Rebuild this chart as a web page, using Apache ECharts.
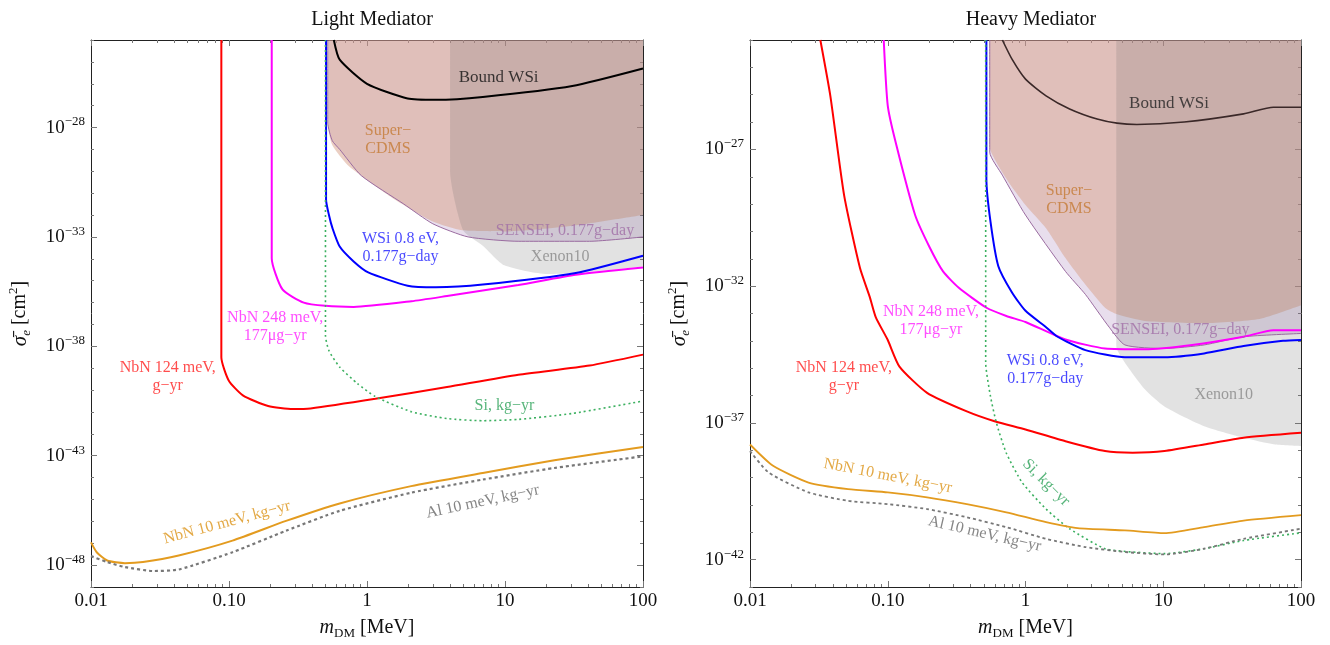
<!DOCTYPE html>
<html>
<head>
<meta charset="utf-8">
<script src="https://cdn.jsdelivr.net/npm/echarts@6/dist/echarts.min.js"></script>
<style>
html, body { margin: 0; padding: 0; background: #fff; }
#chart { width: 1330px; height: 645px; }
</style>
</head>
<body>
<div id="chart"></div>
<script>
// x: dark matter mass in MeV, y: log10 of sigma_e in cm^2
const massTicks = [0.01, 0.1, 1, 10, 100];
const massTickLabels = ['0.01', '0.10', '1', '10', '100'];
const lightSigmaTicks = [-48, -43, -38, -33, -28];
const heavySigmaTicks = [-42, -37, -32, -27];

// ---- light mediator ----
const lightNbN124 = [[0.088,-24],[0.088,-38.5],[0.0995,-39.56],[0.126,-40.24],[0.192,-40.73],[0.29,-40.87],[0.39,-40.84],[1.15,-40.4],[3.8,-39.86],[12.5,-39.3],[41,-38.88],[100,-38.38]];
const lightNbN248 = [[0.204,-24],[0.204,-33.97],[0.244,-35.4],[0.348,-36.0],[0.5,-36.15],[0.8,-36.2],[2.1,-35.94],[3.8,-35.7],[12.5,-35.2],[32.6,-34.73],[100,-34.4]];
const lightWSi = [[0.505,-24],[0.505,-31.3],[0.53,-32.0],[0.562,-32.6],[0.634,-33.44],[0.8,-34.12],[1.02,-34.62],[1.97,-35.23],[3.16,-35.3],[6.9,-35.18],[32.6,-34.65],[100,-33.86]];
const lightSi = [[0.5,-24],[0.5,-37.5],[0.53,-38.2],[0.634,-38.95],[0.853,-39.7],[1.15,-40.3],[2.1,-40.99],[3.8,-41.3],[6.9,-41.4],[12.5,-41.34],[30.7,-41.07],[100,-40.5]];
const lightNbN10 = [[0.01,-46.96],[0.011,-47.41],[0.0131,-47.79],[0.0176,-47.91],[0.0238,-47.86],[0.0432,-47.56],[0.106,-46.88],[0.259,-45.98],[0.634,-45.18],[2.09,-44.39],[6.9,-43.79],[22.8,-43.21],[100,-42.6]];
const lightAl = [[0.01,-47.59],[0.0131,-47.86],[0.0176,-48.09],[0.0284,-48.27],[0.0432,-48.2],[0.106,-47.41],[0.259,-46.43],[0.634,-45.52],[2.09,-44.69],[6.9,-44.09],[22.8,-43.56],[100,-43.03]];
const lightBound = [[0.575,-24],[0.634,-24.9],[1.0,-26.0],[1.97,-26.67],[3.16,-26.73],[6.9,-26.6],[30.7,-26.1],[100,-25.3]];
const lightCDMS = [[0.525,-24],[0.525,-28.0],[0.56,-28.8],[0.72,-29.7],[1.0,-30.4],[1.6,-31.3],[3.0,-32.3],[4.9,-32.7],[10,-32.75],[30,-32.5],[100,-32.0]];
const lightSENSEI = [[0.52,-24],[0.52,-27.8],[0.56,-28.6],[0.634,-29.0],[0.91,-30.2],[1.85,-31.5],[3.0,-32.4],[5.4,-33.0],[12.6,-33.2],[41,-33.2],[100,-33.0]];
const lightXenon = [[4.0,-24],[4.0,-30.0],[4.97,-32.7],[6.9,-33.4],[9.9,-34.3],[20.2,-34.7],[32.6,-34.65],[100,-34.35]];

// ---- heavy mediator ----
const heavyNbN124 = [[0.0324,-23],[0.0383,-25.04],[0.0482,-28.67],[0.0628,-31.33],[0.0741,-32.4],[0.0818,-33.13],[0.1,-33.97],[0.1216,-34.94],[0.193,-35.9],[0.375,-36.58],[0.596,-36.94],[1.0,-37.24],[1.95,-37.67],[3.78,-38.03],[6.0,-38.09],[10.2,-38.03],[19.8,-37.79],[38.3,-37.54],[100,-37.36]];
const heavyNbN248 = [[0.0935,-23],[0.1,-25.4],[0.114,-26.73],[0.158,-29.4],[0.2,-30.55],[0.252,-31.46],[0.328,-32.06],[0.521,-32.79],[0.726,-33.09],[1.0,-33.31],[1.95,-33.95],[3.78,-34.28],[7.35,-34.31],[16.2,-34.15],[38.3,-33.85],[63,-33.61],[100,-33.61]];
const heavyWSi = [[0.52,-23],[0.52,-28.07],[0.557,-29.64],[0.635,-31.27],[0.8,-32.24],[1.0,-32.9],[1.41,-33.5],[1.71,-33.85],[2.72,-34.34],[5.27,-34.6],[10.2,-34.6],[19.8,-34.46],[38.3,-34.19],[74,-34.0],[100,-33.97]];
const heavySi = [[0.514,-23],[0.514,-34.8],[0.557,-36.03],[0.615,-37.0],[0.724,-38.09],[0.946,-39.18],[1.41,-40.15],[2.09,-40.87],[3.78,-41.6],[6.0,-41.72],[10.2,-41.78],[19.8,-41.6],[38.3,-41.3],[100,-41.02]];
const heavyNbN10 = [[0.01,-37.79],[0.0147,-38.57],[0.0266,-39.18],[0.0515,-39.42],[0.1,-39.54],[0.193,-39.72],[0.375,-39.97],[0.726,-40.27],[1.41,-40.63],[2.39,-40.85],[5.27,-40.93],[10.2,-41.03],[19.8,-40.81],[38.3,-40.57],[100,-40.37]];
const heavyAl = [[0.01,-38.03],[0.0137,-38.82],[0.0266,-39.54],[0.0515,-39.85],[0.1,-39.97],[0.193,-40.15],[0.375,-40.45],[0.726,-40.81],[1.41,-41.24],[2.72,-41.54],[5.27,-41.72],[10.2,-41.81],[19.8,-41.6],[38.3,-41.24],[100,-40.87]];
const heavyBound = [[0.679,-23],[0.8,-23.71],[1.0,-24.43],[1.41,-25.04],[2.09,-25.52],[3.31,-25.89],[4.62,-26.04],[6.43,-26.09],[14.2,-26.0],[38.3,-25.7],[63,-25.46],[100,-25.46]];
const heavyCDMS = [[0.546,-23],[0.546,-26.85],[0.726,-28.07],[1.0,-29.03],[1.41,-29.88],[1.95,-30.97],[2.72,-31.94],[3.78,-32.79],[4.62,-33.03],[7.35,-33.27],[19.8,-33.35],[50,-33.2],[100,-32.7]];
const heavySENSEI = [[0.55,-23],[0.55,-27.1],[0.679,-27.94],[1.0,-29.4],[1.95,-31.46],[2.72,-32.3],[4.05,-33.5],[5.27,-34.15],[10.2,-34.28],[19.8,-34.15],[38.3,-33.85],[100,-33.73]];
const heavyXenon = [[4.56,-23],[4.56,-34.2],[5.27,-34.8],[7.35,-35.77],[10.2,-36.4],[19.8,-37.12],[38.3,-37.54],[65,-37.79],[100,-37.85]];

const FONT = '"Liberation Serif", "Times New Roman", serif';

// where the in-plot labels sit (mass, log sigma)
const lightNotes = [
  {t: 'Bound WSi', m: 9.0, y: -25.7, c: '#111', s: 17},
  {t: 'Super−\nCDMS', m: 1.42, y: -28.55, c: '#c47a35'},
  {t: 'WSi 0.8 eV,\n0.177g−day', m: 1.75, y: -33.5, c: '#1a1aff'},
  {t: 'SENSEI, 0.177g−day', m: 27.2, y: -32.7, c: '#a06ea6'},
  {t: 'Xenon10', m: 25.1, y: -33.9, c: '#888'},
  {t: 'NbN 248 meV,\n177μg−yr', m: 0.216, y: -37.1, c: '#ff22ff'},
  {t: 'NbN 124 meV,\ng−yr', m: 0.036, y: -39.4, c: '#ff2020'},
  {t: 'Si, kg−yr', m: 9.9, y: -40.7, c: '#2ea35a'},
  {t: 'NbN 10 meV, kg−yr', m: 0.0966, y: -46.05, c: '#dc9418', r: 15},
  {t: 'Al 10 meV, kg−yr', m: 6.9, y: -45.1, c: '#666', r: 12}
];
const heavyNotes = [
  {t: 'Bound WSi', m: 11, y: -25.34, c: '#222', s: 17},
  {t: 'Super−\nCDMS', m: 2.07, y: -28.85, c: '#c47a35'},
  {t: 'NbN 248 meV,\n177μg−yr', m: 0.206, y: -33.25, c: '#ff22ff'},
  {t: 'NbN 124 meV,\ng−yr', m: 0.048, y: -35.3, c: '#ff2020'},
  {t: 'WSi 0.8 eV,\n0.177g−day', m: 1.39, y: -35.07, c: '#1a1aff'},
  {t: 'SENSEI, 0.177g−day', m: 13.3, y: -33.61, c: '#a06ea6'},
  {t: 'Xenon10', m: 27.5, y: -35.97, c: '#888'},
  {t: 'NbN 10 meV, kg−yr', m: 0.1, y: -38.94, c: '#dc9418', r: -11},
  {t: 'Al 10 meV, kg−yr', m: 0.505, y: -41.06, c: '#666', r: -13},
  {t: 'Si, kg−yr', m: 1.41, y: -39.18, c: '#2ea35a', r: -45}
];

const logMass = massTicks.map(Math.log10);
const minorMass = [];
for (let d = -2; d < 2; d++) for (let k = 2; k <= 9; k++) minorMass.push(d + Math.log10(k));

const lineCol = '#222';
const tickCol = '#777';

function xAxes(g) {
  const base = {type: 'value', gridIndex: g, min: -2, max: 2, splitLine: {show: false}};
  return [
    Object.assign({}, base, {
      position: 'bottom', interval: 1,
      axisLine: {onZero: false, lineStyle: {color: lineCol}},
      axisTick: {inside: true, length: 6, customValues: logMass, lineStyle: {color: tickCol}},
      axisLabel: {margin: 5, fontFamily: FONT, fontSize: 19, color: '#111', customValues: logMass,
        formatter: v => massTickLabels[Math.round(v) + 2]},
      name: '{i|m}{sub|DM}{n| [MeV]}', nameLocation: 'middle', nameGap: 29,
      nameTextStyle: {rich: {
        i: {fontFamily: FONT, fontSize: 20, fontStyle: 'italic', color: '#111', lineHeight: 24, verticalAlign: 'middle'},
        sub: {fontFamily: FONT, fontSize: 13, color: '#111', lineHeight: 10, verticalAlign: 'bottom'},
        n: {fontFamily: FONT, fontSize: 20, color: '#111', lineHeight: 24, verticalAlign: 'middle'}
      }}
    }),
    Object.assign({}, base, {position: 'bottom', axisLine: {show: false, onZero: false}, axisLabel: {show: false},
      axisTick: {inside: true, length: 3, customValues: minorMass, lineStyle: {color: tickCol}}}),
    Object.assign({}, base, {position: 'top', axisLine: {onZero: false, lineStyle: {color: lineCol}}, axisLabel: {show: false},
      axisTick: {inside: true, length: 6, customValues: logMass, lineStyle: {color: tickCol}}}),
    Object.assign({}, base, {position: 'top', axisLine: {show: false, onZero: false}, axisLabel: {show: false},
      axisTick: {inside: true, length: 3, customValues: minorMass, lineStyle: {color: tickCol}}})
  ];
}

function yAxes(g, lo, hi, majors) {
  const minors = [];
  for (let e = lo; e <= hi; e++) minors.push(e);
  const base = {type: 'value', gridIndex: g, min: lo, max: hi, splitLine: {show: false}};
  return [
    Object.assign({}, base, {
      position: 'left',
      axisLine: {onZero: false, lineStyle: {color: lineCol}},
      axisTick: {inside: true, length: 6, customValues: majors, lineStyle: {color: tickCol}},
      axisLabel: {margin: 6, customValues: majors, formatter: v => '{b|10}{s|' + String(v).replace('-', '−') + '}',
        rich: {
          b: {fontFamily: FONT, fontSize: 19, color: '#111', lineHeight: 24, verticalAlign: 'middle'},
          s: {fontFamily: FONT, fontSize: 13, color: '#111', lineHeight: 10, verticalAlign: 'top'}
        }},
      name: '{g|σ̄}{sub|e}{n| [cm}{sup|2}{n|]}', nameLocation: 'middle', nameGap: 58, nameRotate: 90,
      nameTextStyle: {rich: {
        g: {fontFamily: FONT, fontSize: 21, fontStyle: 'italic', color: '#111', lineHeight: 26, verticalAlign: 'middle'},
        sub: {fontFamily: FONT, fontSize: 13, fontStyle: 'italic', color: '#111', lineHeight: 10, verticalAlign: 'bottom'},
        n: {fontFamily: FONT, fontSize: 20, color: '#111', lineHeight: 26, verticalAlign: 'middle'},
        sup: {fontFamily: FONT, fontSize: 13, color: '#111', lineHeight: 14, verticalAlign: 'top'}
      }}
    }),
    Object.assign({}, base, {position: 'left', axisLine: {show: false, onZero: false}, axisLabel: {show: false},
      axisTick: {inside: true, length: 3, customValues: minors, lineStyle: {color: tickCol}}}),
    Object.assign({}, base, {position: 'right', axisLine: {onZero: false, lineStyle: {color: lineCol}}, axisLabel: {show: false},
      axisTick: {inside: true, length: 6, customValues: majors, lineStyle: {color: tickCol}}}),
    Object.assign({}, base, {position: 'right', axisLine: {show: false, onZero: false}, axisLabel: {show: false},
      axisTick: {inside: true, length: 3, customValues: minors, lineStyle: {color: tickCol}}})
  ];
}

const toXY = pts => pts.map(p => [Math.log10(p[0]), p[1]]);

function curve(data, g, color, width, type) {
  return {type: 'line', xAxisIndex: g * 4, yAxisIndex: g * 4, data: toXY(data),
    symbol: 'none', smooth: 0.2, silent: true, z: 3,
    lineStyle: {color: color, width: width, type: type || 'solid'}};
}

function region(data, g, fill, edge) {
  return {type: 'line', xAxisIndex: g * 4, yAxisIndex: g * 4, data: toXY(data),
    symbol: 'none', smooth: 0.2, silent: true, z: 1,
    areaStyle: {origin: 'end', color: fill, opacity: 1},
    lineStyle: edge ? {color: edge, width: 1} : {width: 0}};
}

function notes(list, g) {
  return {type: 'scatter', xAxisIndex: g * 4, yAxisIndex: g * 4, symbolSize: 1, silent: true, z: 6,
    itemStyle: {color: 'rgba(0,0,0,0)'},
    data: list.map(n => ({
      value: [Math.log10(n.m), n.y],
      label: {show: true, position: 'inside', formatter: n.t, color: n.c, rotate: n.r || 0,
        fontFamily: FONT, fontSize: n.s || 16, lineHeight: 18, align: 'center'}
    }))};
}

const fillSENSEI = 'rgba(150,105,175,0.22)';
const fillCDMS = 'rgba(215,160,135,0.5)';
const fillXenon = 'rgba(110,110,110,0.2)';

const chart = echarts.init(document.getElementById('chart'));
chart.setOption({
  animation: false,
  backgroundColor: '#fff',
  title: [
    {text: 'Light Mediator', left: 367, top: 5, textAlign: 'center',
      textStyle: {fontFamily: FONT, fontSize: 20, fontWeight: 'normal', color: '#111'}},
    {text: 'Heavy Mediator', left: 1026, top: 5, textAlign: 'center',
      textStyle: {fontFamily: FONT, fontSize: 20, fontWeight: 'normal', color: '#111'}}
  ],
  grid: [
    {left: 91, top: 40, width: 552, height: 551},
    {left: 750, top: 40, width: 551, height: 552}
  ],
  xAxis: xAxes(0).concat(xAxes(1)),
  yAxis: yAxes(0, -49, -24, lightSigmaTicks).concat(yAxes(1, -43, -23, heavySigmaTicks)),
  series: [
    region(lightSENSEI, 0, fillSENSEI, '#9a6ca0'),
    region(lightCDMS, 0, fillCDMS),
    region(lightXenon, 0, fillXenon),
    curve(lightBound, 0, '#000', 2),
    curve(lightNbN124, 0, '#ff0000', 2),
    curve(lightNbN248, 0, '#ff00ff', 2),
    curve(lightWSi, 0, '#0000ff', 2),
    curve(lightSi, 0, '#3cb060', 1.6, [2, 3]),
    curve(lightNbN10, 0, '#e39b1f', 2),
    curve(lightAl, 0, '#777', 2.2, [3, 3]),
    notes(lightNotes, 0),

    region(heavySENSEI, 1, fillSENSEI, '#9a6ca0'),
    region(heavyCDMS, 1, fillCDMS),
    region(heavyXenon, 1, fillXenon),
    curve(heavyBound, 1, '#3a2828', 1.6),
    curve(heavyNbN124, 1, '#ff0000', 2),
    curve(heavyNbN248, 1, '#ff00ff', 2),
    curve(heavyWSi, 1, '#0000ff', 2),
    curve(heavySi, 1, '#3cb060', 1.6, [2, 3]),
    curve(heavyNbN10, 1, '#e39b1f', 1.8),
    curve(heavyAl, 1, '#777', 1.8, [3, 3]),
    notes(heavyNotes, 1)
  ]
});
</script>
</body>
</html>
